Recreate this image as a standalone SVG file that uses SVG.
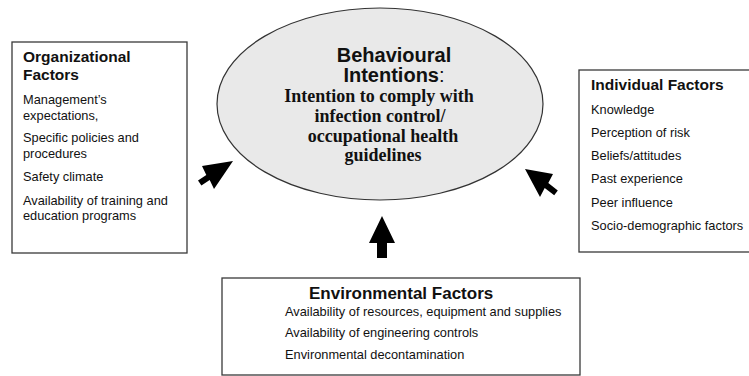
<svg xmlns="http://www.w3.org/2000/svg" width="749" height="376" viewBox="0 0 749 376">
<style>
.box{fill:#fff;stroke:#3a3a3a;stroke-width:1.3}
.t{font-family:"Liberation Sans",Arial,sans-serif;fill:#111}
.h{font-weight:bold;font-size:15.5px}
.i{font-size:12.8px}
.s{font-family:"Liberation Serif","Times New Roman",serif;font-weight:bold;font-size:18px;fill:#111}
.arr{fill:#000}
</style>
<rect width="749" height="376" fill="#fff"/>
<g id="organizational">
<rect class="box" x="12" y="42" width="175" height="211"/>
<text class="t h" x="23" y="62">Organizational</text>
<text class="t h" x="23" y="80">Factors</text>
<text class="t i" x="23" y="104">Management’s</text>
<text class="t i" x="23" y="120">expectations,</text>
<text class="t i" x="23" y="142">Specific policies and</text>
<text class="t i" x="23" y="158">procedures</text>
<text class="t i" x="23" y="181">Safety climate</text>
<text class="t i" x="23" y="205">Availability of training and</text>
<text class="t i" x="23" y="220">education programs</text>
</g>
<g id="behavioural">
<ellipse cx="380" cy="104" rx="163" ry="96" fill="#e9e9e9" stroke="#333" stroke-width="1.2"/>
<text class="t" x="394" y="62" text-anchor="middle" font-weight="bold" font-size="20">Behavioural</text>
<text class="t" x="394" y="82" text-anchor="middle" font-size="20"><tspan font-weight="bold">Intentions</tspan>:</text>
<text class="s" x="379" y="102" text-anchor="middle">Intention to comply with</text>
<text class="s" x="380" y="122" text-anchor="middle">infection control/</text>
<text class="s" x="383" y="142" text-anchor="middle">occupational health</text>
<text class="s" x="383" y="161" text-anchor="middle">guidelines</text>
</g>
<g id="individual">
<rect class="box" x="579" y="70" width="190" height="182"/>
<text class="t h" x="591" y="90" font-size="15">Individual Factors</text>
<text class="t i" x="591" y="114">Knowledge</text>
<text class="t i" x="591" y="137">Perception of risk</text>
<text class="t i" x="591" y="160">Beliefs/attitudes</text>
<text class="t i" x="591" y="183">Past experience</text>
<text class="t i" x="591" y="207">Peer influence</text>
<text class="t i" x="591" y="230">Socio-demographic factors</text>
</g>
<g id="environmental">
<rect class="box" x="222" y="278" width="358" height="97"/>
<text class="t" x="309" y="299" font-weight="bold" font-size="17">Environmental Factors</text>
<text class="t i" x="285" y="316">Availability of resources, equipment and supplies</text>
<text class="t i" x="285" y="337">Availability of engineering controls</text>
<text class="t i" x="285" y="359">Environmental decontamination</text>
</g>
<g id="connectors">
<polygon class="arr" points="233,161 202,166 206.3,175 198,180.5 201.4,185.5 209.7,180 214,189"/>
<polygon class="arr" points="525,169 553,174 548.3,183.1 557.8,190.4 554.2,195.2 544.7,187.9 540,197"/>
<polygon class="arr" points="382,216 395,243 387,243 387,258 377,258 377,243 369,243"/>
</g>
</svg>
